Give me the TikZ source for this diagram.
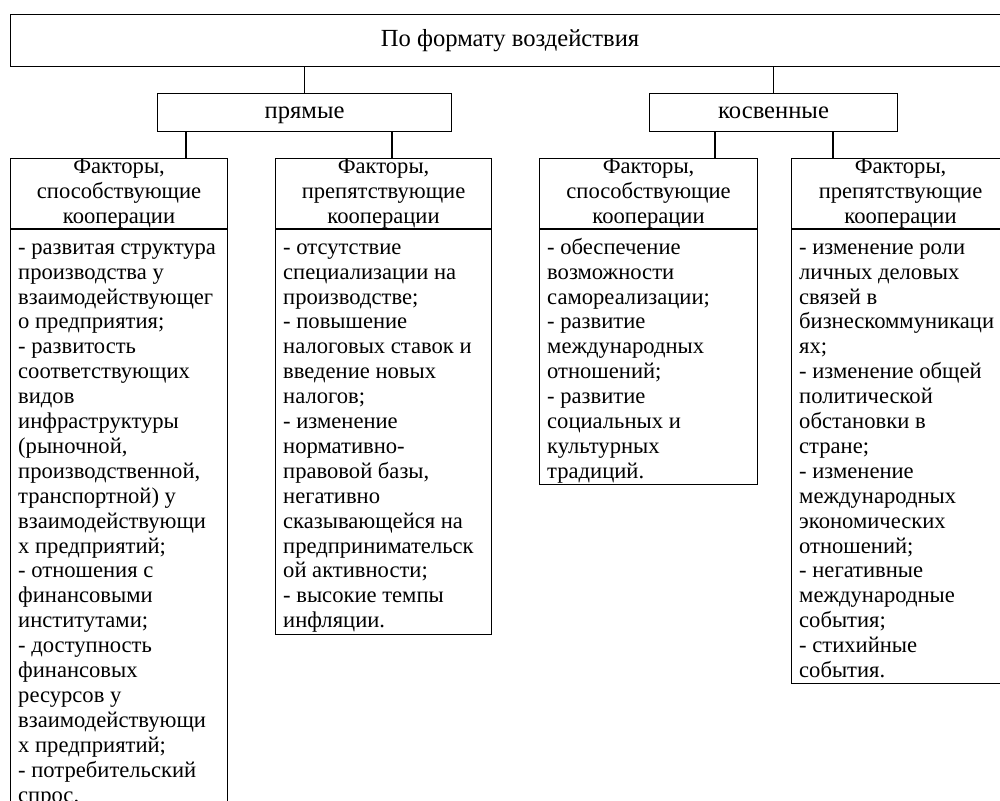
\documentclass[tikz,border=0pt]{standalone}
\usepackage{fontspec}
\setmainfont{Liberation Serif}
\newcommand{\bodyf}{\fontsize{22.6}{24.9}\selectfont}
\newcommand{\headf}{\fontsize{24.6}{28}\selectfont}
\begin{document}
\begin{tikzpicture}[x=1pt,y=-1pt,
  box/.style={draw, line width=1.1pt, inner sep=0pt, anchor=north west, font=\bodyf},
  lvl/.style={box, font=\headf, text height=17pt, text depth=5pt},
  hdr/.style={box, minimum width=#1, minimum height=70pt, align=center},
  body/.style={box, minimum width=#1},
  txt/.style={anchor=north west, inner sep=0pt, align=left, font=\bodyf},
  link/.style={line width=1.1pt}]
\useasboundingbox (0,0) rectangle (1000,800);
% top levels
\node[lvl, minimum width=999pt, minimum height=52pt] (top) at (10,14) {По формату воздействия};
\node[lvl, minimum width=294pt, minimum height=38pt] (pr) at (157,93) {прямые};
\node[lvl, minimum width=248pt, minimum height=38pt] (kv) at (649,93) {косвенные};
% headers
\node[hdr=217pt] (h1) at (10,158) {Факторы,\\способствующие\\кооперации};
\node[hdr=216pt] (h2) at (275,158) {Факторы,\\препятствующие\\кооперации};
\node[hdr=218pt] (h3) at (539,158) {Факторы,\\способствующие\\кооперации};
\node[hdr=218pt] (h4) at (791,158) {Факторы,\\препятствующие\\кооперации};
% bodies
\node[body=217pt, minimum height=590pt] (b1) at (h1.south west) {};
\node[body=216pt, minimum height=405pt] (b2) at (h2.south west) {};
\node[body=218pt, minimum height=255pt] (b3) at (h3.south west) {};
\node[body=218pt, minimum height=454pt] (b4) at (h4.south west) {};
\node[txt] (t1) at ([shift={(8pt,-7.5pt)}]b1.north west) {\strut - развитая структура\\производства у\\взаимодействующег\\о предприятия;\\- развитость\\соответствующих\\видов\\инфраструктуры\\(рыночной,\\производственной,\\транспортной) у\\взаимодействующи\\х предприятий;\\- отношения с\\финансовыми\\институтами;\\- доступность\\финансовых\\ресурсов у\\взаимодействующи\\х предприятий;\\- потребительский\\спрос.};
\node[txt] (t2) at ([shift={(8pt,-7.5pt)}]b2.north west) {\strut - отсутствие\\специализации на\\производстве;\\- повышение\\налоговых ставок и\\введение новых\\налогов;\\- изменение\\нормативно-\\правовой базы,\\негативно\\сказывающейся на\\предпринимательск\\ой активности;\\- высокие темпы\\инфляции.};
\node[txt] (t3) at ([shift={(8pt,-7.5pt)}]b3.north west) {\strut - обеспечение\\возможности\\самореализации;\\- развитие\\международных\\отношений;\\- развитие\\социальных и\\культурных\\традиций.};
\node[txt] (t4) at ([shift={(8pt,-7.5pt)}]b4.north west) {\strut - изменение роли\\личных деловых\\связей в\\бизнескоммуникаци\\ях;\\- изменение общей\\политической\\обстановки в\\стране;\\- изменение\\международных\\экономических\\отношений;\\- негативные\\международные\\события;\\- стихийные\\события.};
% connectors
\coordinate (j1) at (186,158);
\coordinate (j2) at (392,158);
\coordinate (j3) at (715,158);
\coordinate (j4) at (833,158);
\draw[link] (pr.north |- top.south) -- (pr.north);
\draw[link] (kv.north |- top.south) -- (kv.north);
\draw[link] (j1 |- pr.south) -- (j1);
\draw[link] (j2 |- pr.south) -- (j2);
\draw[link] (j3 |- kv.south) -- (j3);
\draw[link] (j4 |- kv.south) -- (j4);
\end{tikzpicture}
\end{document}
